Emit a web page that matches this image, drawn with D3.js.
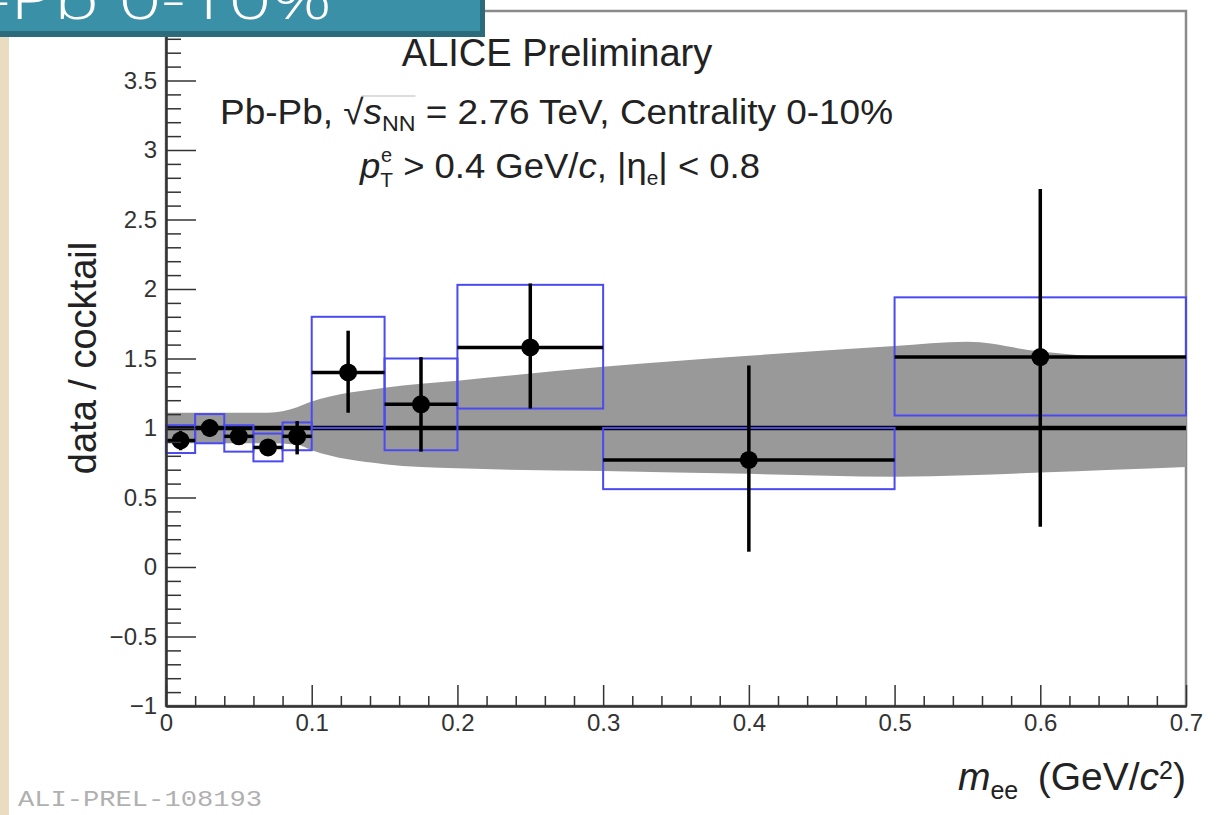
<!DOCTYPE html>
<html>
<head>
<meta charset="utf-8">
<script src="https://cdn.jsdelivr.net/npm/d3@7"></script>
<style>
  body { margin: 0; background: #fff; }
  text { font-family: "Liberation Sans", Arial, sans-serif; }
</style>
</head>
<body>
<svg id="chart" width="1220" height="815"></svg>
<script>
// bins (GeV/c^2)
const binLo   = [0.00, 0.02, 0.04, 0.06, 0.08, 0.10, 0.15, 0.20, 0.30, 0.50];
const binHi   = [0.02, 0.04, 0.06, 0.08, 0.10, 0.15, 0.20, 0.30, 0.50, 0.70];
const xCenter = [0.01, 0.03, 0.05, 0.07, 0.09, 0.125, 0.175, 0.25, 0.40, 0.60];
// data / cocktail
const ratio  = [0.91, 1.00, 0.94, 0.86, 0.94, 1.40, 1.17, 1.58, 0.77, 1.51];
const statLo = [0.84, 0.94, 0.88, 0.80, 0.81, 1.11, 0.83, 1.14, 0.11, 0.29];
const statHi = [0.98, 1.06, 1.00, 0.92, 1.05, 1.70, 1.51, 2.04, 1.45, 2.72];
const sysLo  = [0.82, 0.89, 0.83, 0.76, 0.84, 1.00, 0.84, 1.14, 0.56, 1.09];
const sysHi  = [1.02, 1.10, 1.02, 0.96, 1.04, 1.80, 1.50, 2.03, 1.00, 1.94];
// cocktail uncertainty band
const bandX  = [0, 0.07, 0.09, 0.10, 0.15, 0.20, 0.30, 0.40, 0.50, 0.55, 0.60, 0.65, 0.70];
const bandHi = [1.11, 1.11, 1.15, 1.19, 1.29, 1.34, 1.44, 1.52, 1.59, 1.62, 1.55, 1.51, 1.50];
const bandLo = [0.89, 0.89, 0.88, 0.84, 0.74, 0.71, 0.69, 0.67, 0.65, 0.66, 0.68, 0.70, 0.72];
// ticks
const xMajor = [0, 0.1, 0.2, 0.3, 0.4, 0.5, 0.6, 0.7];
const xLabels = ["0", "0.1", "0.2", "0.3", "0.4", "0.5", "0.6", "0.7"];
const yMajor = [-1, -0.5, 0, 0.5, 1, 1.5, 2, 2.5, 3, 3.5];
const yLabels = ["\u22121", "\u22120.5", "0", "0.5", "1", "1.5", "2", "2.5", "3", "3.5"];

const svg = d3.select("#chart");

const x = d3.scaleLinear().domain([0, 0.7]).range([166, 1186]);
const y = d3.scaleLinear().domain([-1, 4]).range([706, 11]);

const xMinor = d3.range(0, 0.7001, 0.02).map(d => +d.toFixed(3)).filter(d => !xMajor.some(m => Math.abs(m - d) < 1e-6));
const yMinor = d3.range(-1, 4.0001, 0.1).map(d => +d.toFixed(2)).filter(d => !yMajor.some(m => Math.abs(m - d) < 1e-6));

// left beige strip
svg.append("rect").attr("x", 0).attr("y", 0).attr("width", 9).attr("height", 815).attr("fill", "#e9dcc0");

// frame
svg.append("rect")
  .attr("x", x(0)).attr("y", y(4))
  .attr("width", x(0.7) - x(0)).attr("height", y(-1) - y(4))
  .attr("fill", "none").attr("stroke", "#8a8a8a").attr("stroke-width", 2.5);

// band
const area = d3.area()
  .x((d, i) => x(bandX[i]))
  .y0((d, i) => y(bandLo[i]))
  .y1((d, i) => y(bandHi[i]))
  .curve(d3.curveMonotoneX);
svg.append("path").datum(bandX).attr("d", area).attr("fill", "#999999");

// unity line
svg.append("line")
  .attr("x1", x(0)).attr("x2", x(0.7)).attr("y1", y(1)).attr("y2", y(1))
  .attr("stroke", "#000").attr("stroke-width", 4.5);

const idx = d3.range(ratio.length);

// systematic boxes
svg.append("g").selectAll("rect").data(idx).join("rect")
  .attr("x", i => x(binLo[i])).attr("width", i => x(binHi[i]) - x(binLo[i]))
  .attr("y", i => y(sysHi[i])).attr("height", i => y(sysLo[i]) - y(sysHi[i]))
  .attr("fill", "none").attr("stroke", "#4a4af0").attr("stroke-width", 2);

// error bars
const eb = svg.append("g").attr("stroke", "#000").attr("stroke-width", 3.5);
eb.selectAll("line.h").data(idx).join("line").attr("class", "h")
  .attr("x1", i => x(binLo[i])).attr("x2", i => x(binHi[i]))
  .attr("y1", i => y(ratio[i])).attr("y2", i => y(ratio[i]));
eb.selectAll("line.v").data(idx).join("line").attr("class", "v")
  .attr("x1", i => x(xCenter[i])).attr("x2", i => x(xCenter[i]))
  .attr("y1", i => y(statLo[i])).attr("y2", i => y(statHi[i]));

svg.append("g").selectAll("circle").data(idx).join("circle")
  .attr("cx", i => x(xCenter[i])).attr("cy", i => y(ratio[i]))
  .attr("r", 9).attr("fill", "#000");

// axes
function styleAxis(g) {
  g.select(".domain").attr("stroke", "#333").attr("stroke-width", 2);
  g.selectAll(".tick line").attr("stroke", "#333").attr("stroke-width", 1.5);
  g.selectAll(".tick text").attr("fill", "#333").style("font-size", "24px")
    .style("font-family", "'Liberation Sans', Arial, sans-serif");
}

svg.append("g").attr("transform", `translate(${x(0)},0)`)
  .call(d3.axisLeft(y).tickValues(yMinor).tickSize(-15).tickSizeOuter(0).tickFormat(""))
  .call(styleAxis);
svg.append("g").attr("transform", `translate(${x(0)},0)`)
  .call(d3.axisLeft(y).tickValues(yMajor).tickSize(-30).tickSizeOuter(0).tickPadding(9)
    .tickFormat((d, i) => yLabels[i]))
  .call(styleAxis);

svg.append("g").attr("transform", `translate(0,${y(-1)})`)
  .call(d3.axisBottom(x).tickValues(xMinor).tickSize(-10).tickSizeOuter(0).tickFormat(""))
  .call(styleAxis);
svg.append("g").attr("transform", `translate(0,${y(-1)})`)
  .call(d3.axisBottom(x).tickValues(xMajor).tickSize(-21).tickSizeOuter(0).tickPadding(8)
    .tickFormat((d, i) => xLabels[i]))
  .call(styleAxis);

// texts
svg.append("text").attr("x", 557).attr("y", 66).attr("text-anchor", "middle")
  .style("font-size", "38px").attr("fill", "#222").text("ALICE Preliminary");

const t2 = svg.append("text").attr("x", 220).attr("y", 124).style("font-size", "35px").attr("fill", "#222");
t2.append("tspan").text("Pb-Pb, \u221A");
t2.append("tspan").style("font-style", "italic").text("s");
t2.append("tspan").attr("baseline-shift", "-30%").style("font-size", "22px").text("NN");
t2.append("tspan").text(" = 2.76 TeV, Centrality 0-10%");
t2.attr("textLength", 673).attr("lengthAdjust", "spacingAndGlyphs");
// radical bar over s_NN, placed from the glyph extents
const rootBox = t2.node().getExtentOfChar(7);
const nnBox = t2.node().getExtentOfChar(10);
svg.append("line")
  .attr("x1", rootBox.x + rootBox.width - 2).attr("x2", nnBox.x + nnBox.width)
  .attr("y1", rootBox.y + 4).attr("y2", rootBox.y + 4)
  .attr("stroke", "#bbb").attr("stroke-width", 1);

const t3 = svg.append("text").attr("x", 360).attr("y", 178).style("font-size", "35px").attr("fill", "#222");
t3.append("tspan").style("font-style", "italic").text("p");
t3.append("tspan").attr("baseline-shift", "-45%").style("font-size", "20px").text("T");
t3.append("tspan").text(" > 0.4 GeV/");
t3.append("tspan").style("font-style", "italic").text("c");
t3.append("tspan").text(", |\u03B7");
t3.append("tspan").attr("baseline-shift", "-35%").style("font-size", "20px").text("e");
t3.append("tspan").text("| < 0.8");
t3.attr("textLength", 400).attr("lengthAdjust", "spacingAndGlyphs");
// superscript e over p_T
svg.append("text").attr("x", 381).attr("y", 162).style("font-size", "20px").attr("fill", "#222").text("e");

svg.append("text").attr("transform", "translate(96,358) rotate(-90)").attr("text-anchor", "middle")
  .style("font-size", "38px").attr("fill", "#222").text("data / cocktail");

const xt = svg.append("text").attr("x", 1186).attr("y", 790).attr("text-anchor", "end")
  .style("font-size", "39px").attr("fill", "#222");
xt.append("tspan").style("font-style", "italic").text("m");
xt.append("tspan").attr("baseline-shift", "-35%").style("font-size", "25px").text("ee");
xt.append("tspan").text("\u2002(GeV/");
xt.append("tspan").style("font-style", "italic").text("c");
xt.append("tspan").attr("baseline-shift", "45%").style("font-size", "25px").text("2");
xt.append("tspan").text(")");

svg.append("text").attr("x", 18).attr("y", 806)
  .style("font-family", "'Liberation Mono', monospace").style("font-size", "22px")
  .attr("fill", "#b0b0b0").attr("textLength", 244).attr("lengthAdjust", "spacingAndGlyphs")
  .text("ALI-PREL-108193");

// banner
svg.append("rect").attr("x", 0).attr("y", 0).attr("width", 485).attr("height", 37).attr("fill", "#2b6b7c");
svg.append("rect").attr("x", 0).attr("y", 0).attr("width", 480).attr("height", 31).attr("fill", "#3a90a7");
svg.append("text").attr("x", -14).attr("y", 19)
  .style("font-family", "'Open Sans', sans-serif").style("font-weight", 300).style("font-size", "56px")
  .attr("fill", "#fff").attr("textLength", 346).attr("lengthAdjust", "spacingAndGlyphs")
  .text("-Pb 0-10%");
</script>
</body>
</html>
